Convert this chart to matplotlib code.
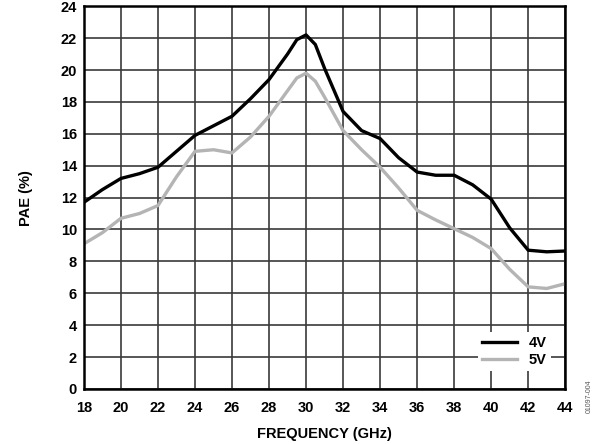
import matplotlib
matplotlib.use("Agg")
import matplotlib.pyplot as plt

# PAE vs frequency
freq = [18, 19, 20, 21, 22, 23, 24, 25, 26, 27, 28, 29, 29.5, 30, 30.5, 31,
        32, 33, 34, 35, 36, 37, 38, 39, 40, 41, 42, 43, 44]
pae_4v = [11.7, 12.5, 13.2, 13.5, 13.9, 14.9, 15.9, 16.5, 17.1, 18.2, 19.4, 21.0, 21.9, 22.2, 21.6, 20.1,
          17.4, 16.2, 15.7, 14.5, 13.6, 13.4, 13.4, 12.8, 11.9, 10.1, 8.7, 8.6, 8.65]
pae_5v = [9.1, 9.8, 10.7, 11.0, 11.5, 13.3, 14.9, 15.0, 14.8, 15.8, 17.1, 18.7, 19.5, 19.8, 19.3, 18.3,
          16.2, 15.0, 13.9, 12.6, 11.2, 10.6, 10.05, 9.5, 8.8, 7.5, 6.4, 6.3, 6.6]
xticks = list(range(18, 45, 2))
yticks = list(range(0, 25, 2))

plt.rcParams['font.family'] = ['Liberation Sans', 'DejaVu Sans']
plt.rcParams['font.weight'] = 'bold'

fig = plt.figure(figsize=(5.95, 4.44), dpi=100)
ax = fig.add_axes([0.141, 0.124, 0.809, 0.862])

ax.plot(freq, pae_4v, color='black', lw=2.4, solid_joinstyle='round', label='4V', zorder=3)
ax.plot(freq, pae_5v, color='#b4b4b4', lw=2.4, solid_joinstyle='round', label='5V', zorder=3)

ax.set_xlim(18, 44)
ax.set_ylim(0, 24)
ax.set_xticks(xticks)
ax.set_yticks(yticks)
ax.tick_params(axis='x', length=0, labelsize=10.5, pad=9)
ax.tick_params(axis='y', length=0, labelsize=10.5, pad=5)
for lab in ax.get_xticklabels() + ax.get_yticklabels():
    lab.set_fontweight('bold')
ax.grid(True, color='#3a3a3a', lw=1.2)
ax.set_axisbelow(True)
for s in ax.spines.values():
    s.set_linewidth(1.8)
    s.set_zorder(4)

ax.set_xlabel('FREQUENCY (GHz)', fontsize=10.5, fontweight='bold', labelpad=8)
ax.set_ylabel('PAE (%)', fontsize=10.5, fontweight='bold', labelpad=20)

leg = ax.legend(loc='lower right', bbox_to_anchor=(0.985, 0.027), fontsize=10.5,
                frameon=True, fancybox=False, handlelength=2.4, handletextpad=0.75,
                borderpad=0.3, labelspacing=0.2)
leg.get_frame().set_edgecolor('none')
leg.get_frame().set_facecolor('white')
leg.get_frame().set_alpha(1)
for t in leg.get_texts():
    t.set_fontweight('bold')

fig.text(0.99, 0.07, '01097-004', rotation=90, fontsize=5, color='#555555',
         ha='center', va='bottom', fontweight='normal')

fig.savefig('out.png', dpi=100)
